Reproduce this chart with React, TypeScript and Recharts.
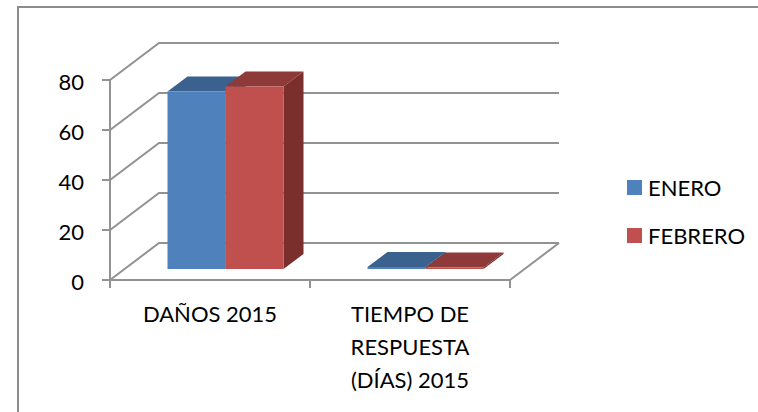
import React from 'react';
import { BarChart, Bar, XAxis, YAxis, CartesianGrid, Legend } from 'recharts';

const categories = ['DAÑOS 2015', 'TIEMPO DE RESPUESTA (DÍAS) 2015'];
const categoryLines = [['DAÑOS 2015'], ['TIEMPO DE', 'RESPUESTA', '(DÍAS) 2015']];
const eneroValues = [71, 0.8];
const febreroValues = [73, 0.6];
const yTicks = [0, 20, 40, 60, 80];

const chartData = categories.map((name, i) => ({
  name,
  ENERO: eneroValues[i],
  FEBRERO: febreroValues[i],
}));

const FONT = 'Lato, sans-serif';
const LINE = '#929292';

// fake 3d: offset of the back wall and of the bars inside the box
const WALL_DX = 49;
const WALL_DY = -37;
const BAR_DX = 15;
const BAR_DY = -11;
const DEPTH_DX = 20;
const DEPTH_DY = -15;

// back wall line plus the slanted line on the side wall
const GridLine = (props: any) => {
  const { x1, x2, y1, index } = props;
  const isFloor = y1 >= 279;
  return (
    <g key={`grid-${index}-${y1}`} fill="none" stroke={LINE} strokeWidth={2}>
      <polyline points={`${x1},${y1} ${x1 + WALL_DX},${y1 + WALL_DY} ${x2 + WALL_DX},${y1 + WALL_DY}`} />
      {isFloor && <line x1={x2} y1={y1} x2={x2 + WALL_DX} y2={y1 + WALL_DY} />}
    </g>
  );
};

const Box3D = (props: any) => {
  const { x, y, width, height, topFill, sideFill, fill } = props;
  const left = x + BAR_DX;
  const right = left + width;
  const top = y + BAR_DY;
  const bottom = top + height;
  return (
    <g>
      <polygon
        points={`${left},${top} ${left + DEPTH_DX},${top + DEPTH_DY} ${right + DEPTH_DX},${top + DEPTH_DY} ${right},${top}`}
        fill={topFill}
      />
      <polygon
        points={`${right},${top} ${right + DEPTH_DX},${top + DEPTH_DY} ${right + DEPTH_DX},${bottom + DEPTH_DY} ${right},${bottom}`}
        fill={sideFill}
      />
      <rect x={left} y={top} width={width} height={height} fill={fill} />
    </g>
  );
};

const CategoryTick = (props: any) => {
  const { x, y, payload, index, width, visibleTicksCount } = props;
  const band = width / visibleTicksCount;
  const lines = categoryLines[index] || [payload.value];
  return (
    <g>
      <line x1={x - band / 2} y1={y - 8} x2={x - band / 2} y2={y} stroke={LINE} strokeWidth={2} />
      <line x1={x + band / 2} y1={y - 8} x2={x + band / 2} y2={y} stroke={LINE} strokeWidth={2} />
      <text x={x} y={y + 34} textAnchor="middle" fontFamily={FONT} fontSize={22} fill="#000">
        {lines.map((line: string, i: number) => (
          <tspan key={line} x={x} dy={i === 0 ? 0 : 33}>
            {line}
          </tspan>
        ))}
      </text>
    </g>
  );
};

const LegendBox = ({ payload }: any) => (
  <div style={{ fontFamily: FONT, fontSize: 22, color: '#000' }}>
    {(payload || []).map((item: any) => (
      <div key={item.value} style={{ display: 'flex', alignItems: 'center', height: 48 }}>
        <span style={{ width: 15, height: 15, background: item.color, marginRight: 6 }} />
        {item.value}
      </div>
    ))}
  </div>
);

export default function App() {
  return (
    <div style={{ position: 'absolute', left: 0, top: 0, width: 758, height: 412, overflow: 'hidden', background: '#fff' }}>
      <div
        style={{
          position: 'absolute',
          left: 17,
          top: 6,
          width: 800,
          height: 500,
          borderLeft: '2px solid #8c8c8c',
          borderTop: '2px solid #8c8c8c',
        }}
      />
      <BarChart
        width={758}
        height={412}
        data={chartData}
        barGap={0}
        barCategoryGap={42.5}
        margin={{ top: 80, right: 248, bottom: 124, left: 70 }}
        style={{ position: 'absolute', left: 0, top: 0 }}
      >
        <CartesianGrid horizontal={GridLine} vertical={false} />
        <XAxis
          dataKey="name"
          height={8}
          interval={0}
          axisLine={{ stroke: LINE, strokeWidth: 2 }}
          tickLine={false}
          tickSize={8}
          tickMargin={0}
          tick={CategoryTick}
        />
        <YAxis
          width={40}
          domain={[0, 80]}
          ticks={yTicks}
          interval={0}
          axisLine={{ stroke: LINE, strokeWidth: 2 }}
          tickLine={{ stroke: LINE, strokeWidth: 2 }}
          tickSize={8}
          tickMargin={18}
          dy={2}
          tick={{ fontFamily: FONT, fontSize: 22, fill: '#000' }}
        />
        <Legend
          layout="horizontal"
          align="center"
          verticalAlign="middle"
          wrapperStyle={{ left: 627, top: 163, width: 130 }}
          content={LegendBox}
        />
        <Bar
          dataKey="ENERO"
          fill="#4f81bd"
          isAnimationActive={false}
          shape={(p: any) => <Box3D {...p} topFill="#3b618e" sideFill="#2f4e73" />}
        />
        <Bar
          dataKey="FEBRERO"
          fill="#c0504d"
          isAnimationActive={false}
          shape={(p: any) => <Box3D {...p} topFill="#8e3a38" sideFill="#7a2f2d" />}
        />
      </BarChart>
    </div>
  );
}
